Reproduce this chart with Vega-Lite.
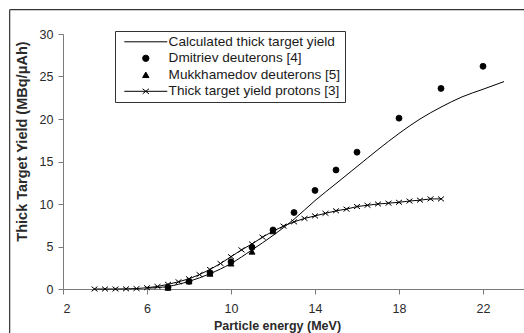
{
  "$schema": "https://vega.github.io/schema/vega-lite/v6.json",
  "width": 462,
  "height": 255,
  "autosize": {"type": "none"},
  "padding": {"left": 63, "top": 34, "right": 0, "bottom": 44},
  "background": "white",
  "config": {
    "view": {"stroke": null},
    "font": "Liberation Sans",
    "axis": {
      "domainColor": "#7a7a7a",
      "tickColor": "#7a7a7a",
      "domainWidth": 1,
      "tickWidth": 1,
      "tickSize": 5,
      "grid": false,
      "labelFont": "Liberation Sans",
      "labelFontSize": 12.5,
      "labelColor": "#2a2a2a",
      "titleFont": "Liberation Sans",
      "titleFontWeight": "bold",
      "titleColor": "#2a2a2a"
    }
  },
  "datasets": {
    "calc": [
      {"energy": 6, "yield": 0.1},
      {"energy": 7, "yield": 0.3},
      {"energy": 8, "yield": 0.9},
      {"energy": 9, "yield": 1.8},
      {"energy": 10, "yield": 3.0},
      {"energy": 11, "yield": 4.6},
      {"energy": 12, "yield": 6.3},
      {"energy": 13, "yield": 8.2},
      {"energy": 14, "yield": 10.4},
      {"energy": 15, "yield": 12.4},
      {"energy": 16, "yield": 14.4},
      {"energy": 17, "yield": 16.4},
      {"energy": 18, "yield": 18.3},
      {"energy": 19, "yield": 20.0},
      {"energy": 20, "yield": 21.4},
      {"energy": 21, "yield": 22.6},
      {"energy": 22, "yield": 23.5},
      {"energy": 23, "yield": 24.4}
    ],
    "protons": [
      {"marker": "x-marker", "energy": 3.5, "yield": 0},
      {"marker": "x-marker", "energy": 4, "yield": 0},
      {"marker": "x-marker", "energy": 4.5, "yield": 0},
      {"marker": "x-marker", "energy": 5, "yield": 0.02},
      {"marker": "x-marker", "energy": 5.5, "yield": 0.05},
      {"marker": "x-marker", "energy": 6, "yield": 0.15},
      {"marker": "x-marker", "energy": 6.5, "yield": 0.3},
      {"marker": "x-marker", "energy": 7, "yield": 0.55},
      {"marker": "x-marker", "energy": 7.5, "yield": 0.85},
      {"marker": "x-marker", "energy": 8, "yield": 1.2},
      {"marker": "x-marker", "energy": 8.5, "yield": 1.7},
      {"marker": "x-marker", "energy": 9, "yield": 2.3},
      {"marker": "x-marker", "energy": 9.5, "yield": 3.0},
      {"marker": "x-marker", "energy": 10, "yield": 3.8},
      {"marker": "x-marker", "energy": 10.5, "yield": 4.6},
      {"marker": "x-marker", "energy": 11, "yield": 5.3},
      {"marker": "x-marker", "energy": 11.5, "yield": 6.1},
      {"marker": "x-marker", "energy": 12, "yield": 6.8},
      {"marker": "x-marker", "energy": 12.5, "yield": 7.4},
      {"marker": "x-marker", "energy": 13, "yield": 7.9},
      {"marker": "x-marker", "energy": 13.5, "yield": 8.3},
      {"marker": "x-marker", "energy": 14, "yield": 8.6},
      {"marker": "x-marker", "energy": 14.5, "yield": 8.9},
      {"marker": "x-marker", "energy": 15, "yield": 9.2},
      {"marker": "x-marker", "energy": 15.5, "yield": 9.4},
      {"marker": "x-marker", "energy": 16, "yield": 9.7},
      {"marker": "x-marker", "energy": 16.5, "yield": 9.85},
      {"marker": "x-marker", "energy": 17, "yield": 10.0},
      {"marker": "x-marker", "energy": 17.5, "yield": 10.1},
      {"marker": "x-marker", "energy": 18, "yield": 10.2},
      {"marker": "x-marker", "energy": 18.5, "yield": 10.35},
      {"marker": "x-marker", "energy": 19, "yield": 10.45},
      {"marker": "x-marker", "energy": 19.5, "yield": 10.6},
      {"marker": "x-marker", "energy": 20, "yield": 10.6}
    ],
    "points": [
      {"marker": "Dmitriev deuterons [4]", "energy": 7, "yield": 0.2},
      {"marker": "Dmitriev deuterons [4]", "energy": 8, "yield": 0.9},
      {"marker": "Dmitriev deuterons [4]", "energy": 9, "yield": 1.9},
      {"marker": "Dmitriev deuterons [4]", "energy": 10, "yield": 3.2},
      {"marker": "Dmitriev deuterons [4]", "energy": 11, "yield": 4.9},
      {"marker": "Dmitriev deuterons [4]", "energy": 12, "yield": 6.95},
      {"marker": "Dmitriev deuterons [4]", "energy": 13, "yield": 9.0},
      {"marker": "Dmitriev deuterons [4]", "energy": 14, "yield": 11.6},
      {"marker": "Dmitriev deuterons [4]", "energy": 15, "yield": 14.0},
      {"marker": "Dmitriev deuterons [4]", "energy": 16, "yield": 16.1},
      {"marker": "Dmitriev deuterons [4]", "energy": 18, "yield": 20.1},
      {"marker": "Dmitriev deuterons [4]", "energy": 20, "yield": 23.6},
      {"marker": "Dmitriev deuterons [4]", "energy": 22, "yield": 26.2},
      {"marker": "Mukkhamedov deuterons [5]", "energy": 7, "yield": 0.15},
      {"marker": "Mukkhamedov deuterons [5]", "energy": 8, "yield": 0.9},
      {"marker": "Mukkhamedov deuterons [5]", "energy": 9, "yield": 1.8},
      {"marker": "Mukkhamedov deuterons [5]", "energy": 10, "yield": 3.0},
      {"marker": "Mukkhamedov deuterons [5]", "energy": 11, "yield": 4.4},
      {"marker": "Mukkhamedov deuterons [5]", "energy": 12, "yield": 6.8}
    ],
    "frame": [
      {"x": -0.54, "x2": -0.54, "y": 32.86, "y2": -6},
      {"x": -0.54, "x2": 26, "y": 32.86, "y2": 32.86}
    ]
  },
  "layer": [
    {
      "data": {"name": "frame"},
      "mark": {"type": "rule", "color": "#333333", "strokeWidth": 1.2, "clip": false},
      "encoding": {
        "x": {"field": "x", "type": "quantitative", "scale": {"domain": [2, 24], "nice": false, "zero": false}},
        "x2": {"field": "x2"},
        "y": {"field": "y", "type": "quantitative", "scale": {"domain": [0, 30], "nice": false}},
        "y2": {"field": "y2"}
      }
    },
    {
      "data": {"name": "calc"},
      "mark": {"type": "line", "color": "black", "strokeWidth": 1, "interpolate": "monotone"},
      "encoding": {
        "x": {"field": "energy", "type": "quantitative"},
        "y": {"field": "yield", "type": "quantitative"}
      }
    },
    {
      "data": {"name": "protons"},
      "mark": {"type": "line", "color": "black", "strokeWidth": 1},
      "encoding": {
        "x": {"field": "energy", "type": "quantitative"},
        "y": {"field": "yield", "type": "quantitative"}
      }
    },
    {
      "data": {"name": "protons"},
      "mark": {"type": "point", "filled": true, "color": "black", "stroke": "black", "strokeWidth": 1, "size": 36, "opacity": 1},
      "encoding": {
        "x": {"field": "energy", "type": "quantitative"},
        "y": {"field": "yield", "type": "quantitative"},
        "shape": {"field": "marker", "type": "nominal"}
      }
    },
    {
      "data": {"name": "points"},
      "mark": {"type": "point", "filled": true, "color": "black", "stroke": "black", "strokeWidth": 0.8, "size": 36, "opacity": 1},
      "encoding": {
        "x": {
          "field": "energy", "type": "quantitative",
          "axis": {"values": [2, 6, 10, 14, 18, 22], "title": "Particle energy (MeV)", "titleFontSize": 12.5, "labelPadding": 8, "titleX": 214, "titleAlign": "center", "titlePadding": 5}
        },
        "y": {
          "field": "yield", "type": "quantitative",
          "axis": {"values": [0, 5, 10, 15, 20, 25, 30], "title": "Thick Target Yield (MBq/μAh)", "titleFontSize": 14.5, "labelPadding": 5, "titleY": 107, "titlePadding": 10}
        },
        "shape": {
          "field": "marker", "type": "nominal",
          "scale": {
            "domain": ["Calculated thick target yield", "Dmitriev deuterons [4]", "Mukkhamedov deuterons [5]", "Thick target yield protons [3]", "x-marker"],
            "range": ["M-6.8,0H6.8", "circle", "triangle-up", "M-6.8,0H6.8M-1,-0.8L1,0.8M-1,0.8L1,-0.8", "M-1,-0.8L1,0.8M-1,0.8L1,-0.8"]
          },
          "legend": {
            "title": null,
            "values": ["Calculated thick target yield", "Dmitriev deuterons [4]", "Mukkhamedov deuterons [5]", "Thick target yield protons [3]"],
            "orient": "none",
            "legendX": 52,
            "legendY": -3,
            "strokeColor": "#333333",
            "fillColor": "white",
            "padding": 4,
            "symbolSize": 40,
            "symbolOffset": 20,
            "labelOffset": 16,
            "labelFont": "Liberation Sans",
            "labelFontSize": 13.6,
            "labelColor": "#1a1a1a",
            "labelLimit": 300,
            "rowPadding": 1.5,
            "symbolStrokeColor": "black",
            "symbolFillColor": "black",
            "symbolStrokeWidth": 1,
            "symbolOpacity": 1
          }
        }
      }
    }
  ]
}
